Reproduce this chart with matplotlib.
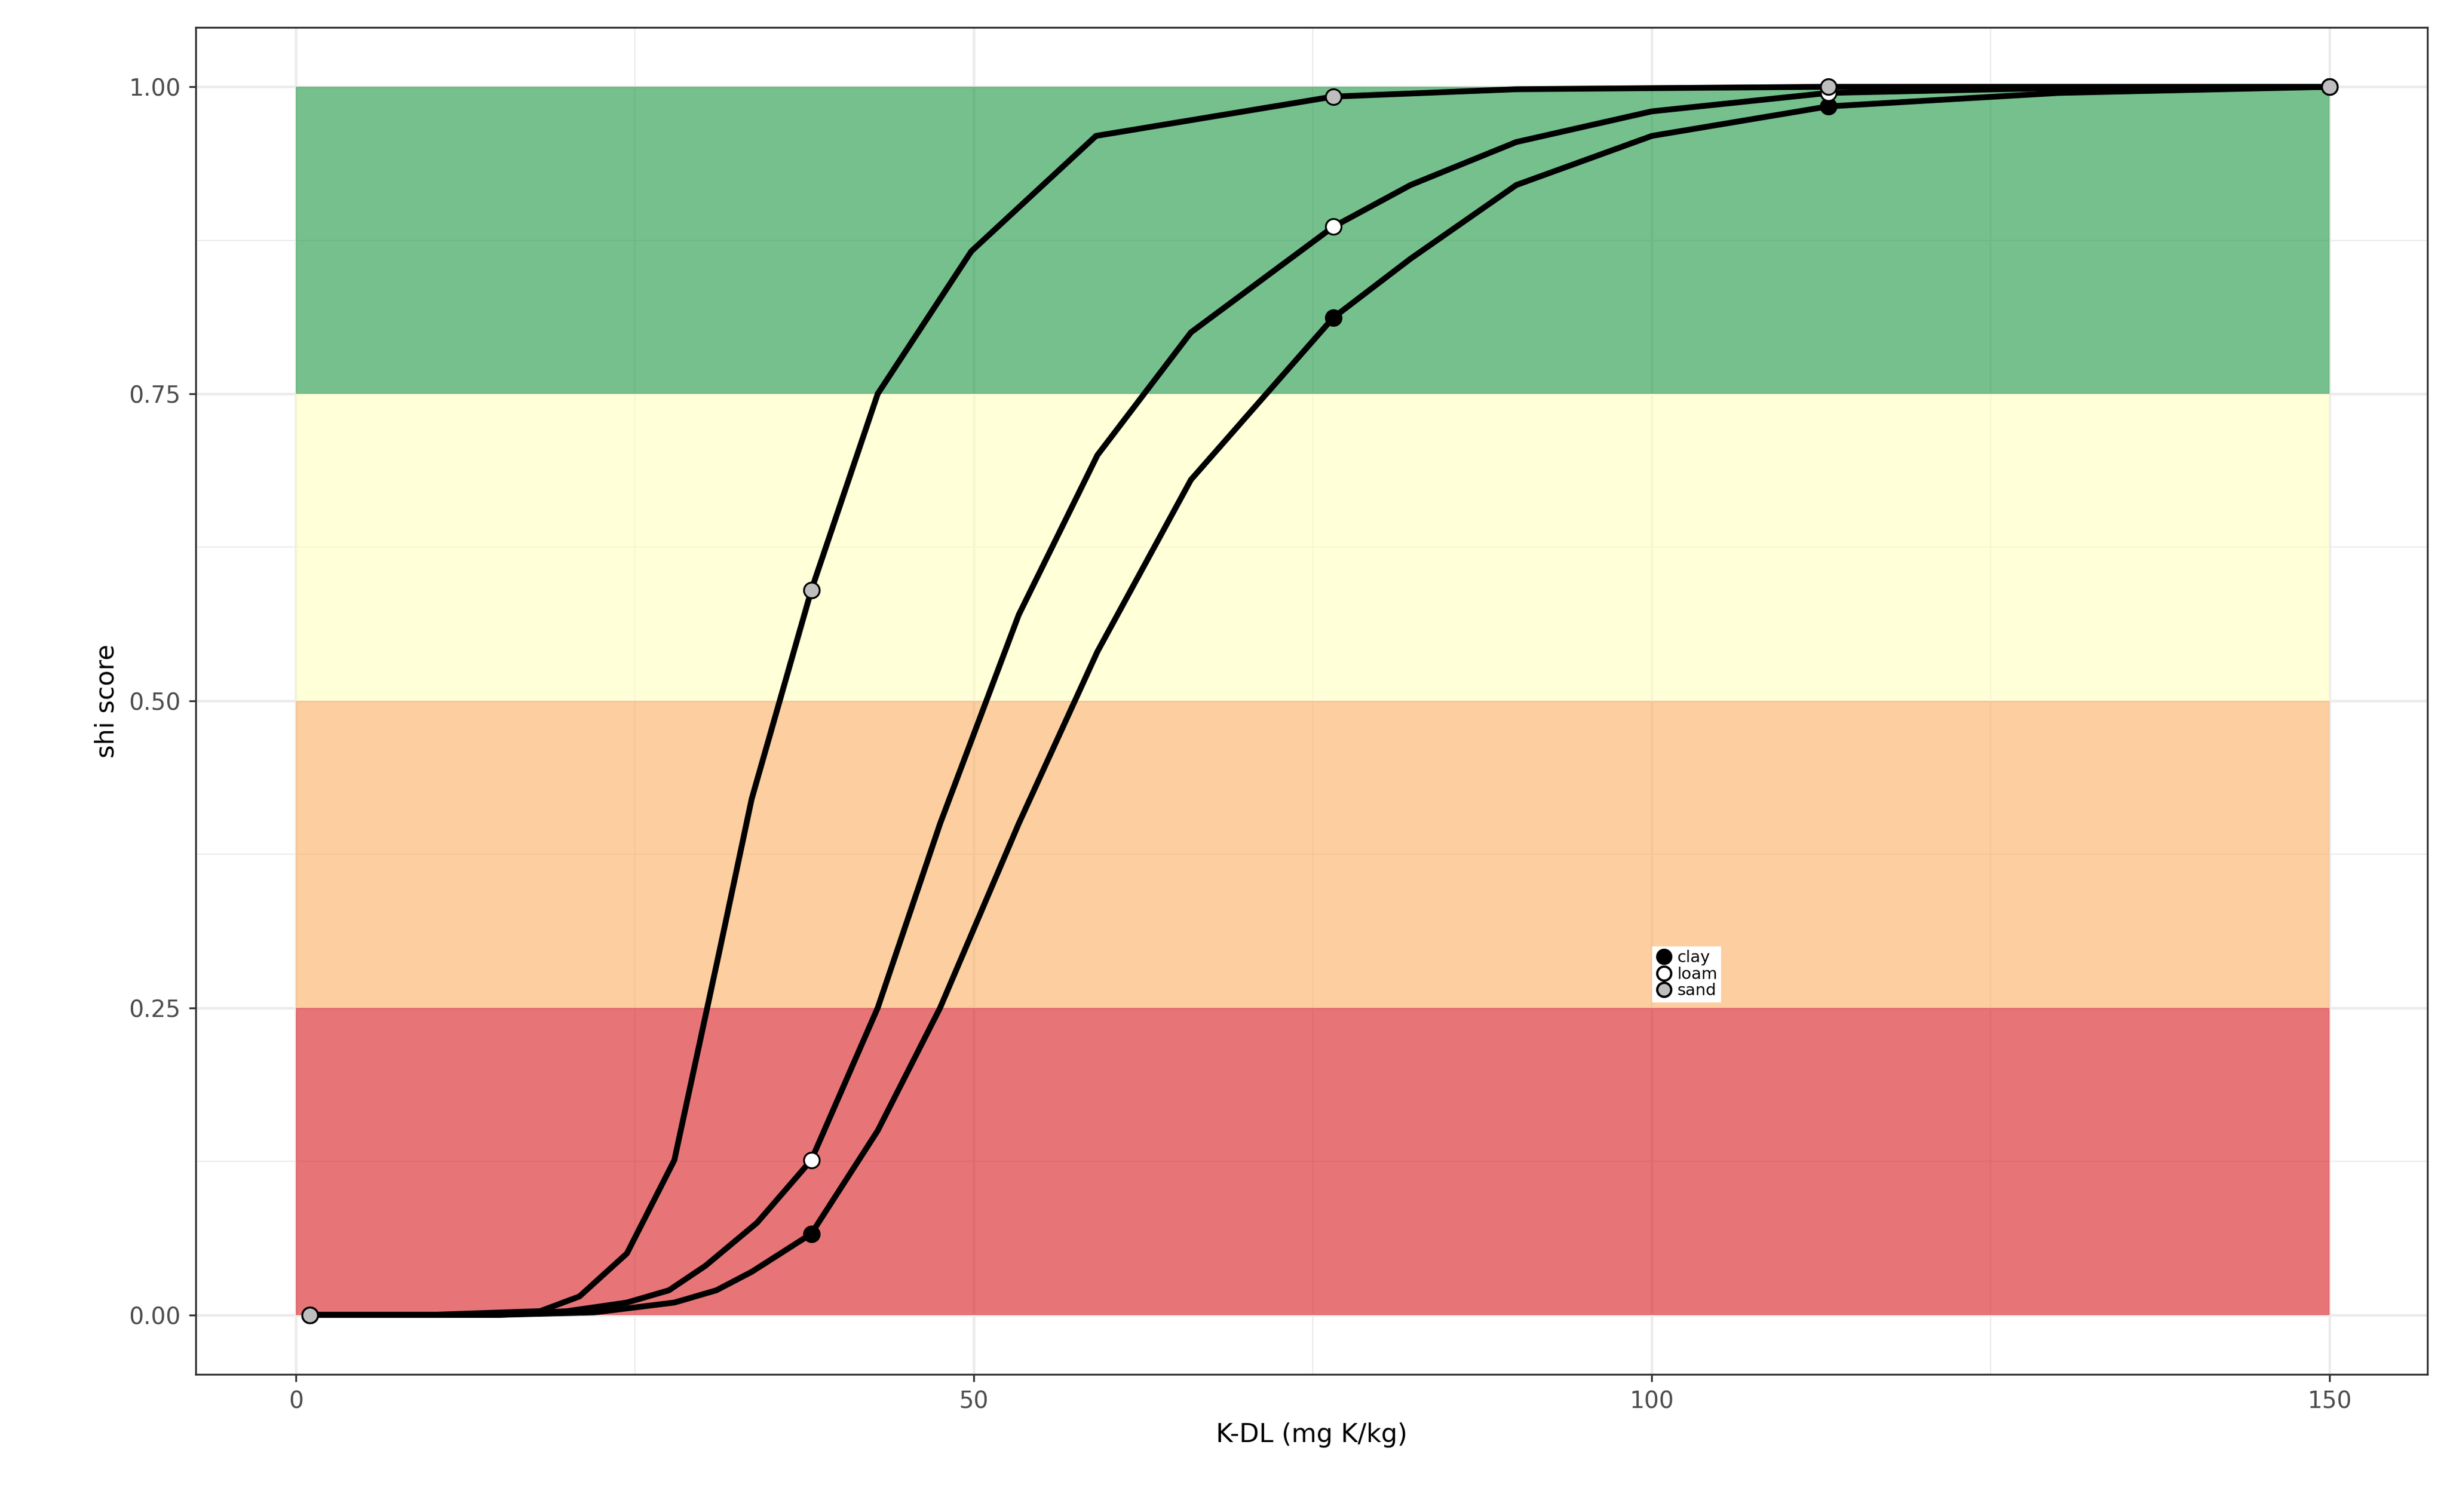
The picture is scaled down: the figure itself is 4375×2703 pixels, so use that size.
import matplotlib
matplotlib.use("Agg")
import matplotlib.pyplot as plt
from matplotlib.lines import Line2D

# curve samples
sand_x = [1, 10, 18, 20.9, 24.4, 27.9, 31.3, 33.6, 38, 42.9, 49.8, 59, 76.5, 90, 113, 150]
sand_y = [0, 0, 0.003, 0.015, 0.05, 0.126, 0.30, 0.42, 0.59, 0.75, 0.866, 0.96, 0.992, 0.998, 1.0, 1.0]
loam_x = [1, 15, 20, 24.4, 27.5, 30.2, 34, 38, 42.9, 47.5, 53.3, 59.1, 66, 76.5, 82.2, 90, 100, 113, 130, 150]
loam_y = [0, 0, 0.003, 0.01, 0.02, 0.04, 0.075, 0.126, 0.25, 0.40, 0.57, 0.70, 0.80, 0.886, 0.92, 0.955, 0.98, 0.995, 0.999, 1.0]
clay_x = [1, 15, 22, 27.9, 31, 33.6, 38, 42.9, 47.5, 53.3, 59.1, 66, 76.5, 82.2, 90, 100, 113, 130, 150]
clay_y = [0, 0, 0.002, 0.01, 0.02, 0.035, 0.066, 0.15, 0.25, 0.40, 0.54, 0.68, 0.812, 0.86, 0.92, 0.96, 0.984, 0.995, 1.0]

pt_x = [1, 38, 76.5, 113, 150]
clay_pts = [0, 0.066, 0.812, 0.984, 1.0]
loam_pts = [0, 0.126, 0.886, 0.995, 1.0]
sand_pts = [0, 0.59, 0.992, 1.0, 1.0]

bands = [(0, 0.25, "#d7191c"), (0.25, 0.5, "#fdae61"), (0.5, 0.75, "#ffffbf"), (0.75, 1.0, "#1a9641")]

fig = plt.figure(figsize=(4375/300, 2703/300), dpi=300)
ax = fig.add_axes([0.080, 0.091, 0.912, 0.891])
ax.set_xlim(-7.4, 157.2)
ax.set_ylim(-0.0485, 1.0485)
ax.set_xticks([0, 50, 100, 150])
ax.set_xticks([25, 75, 125], minor=True)
ax.set_yticks([0, 0.25, 0.5, 0.75, 1.0])
ax.set_yticklabels(["0.00", "0.25", "0.50", "0.75", "1.00"])
ax.set_yticks([0.125, 0.375, 0.625, 0.875], minor=True)
ax.grid(True, which="major", color="#ebebeb", lw=1.1, zorder=0)
ax.grid(True, which="minor", color="#ebebeb", lw=0.55, zorder=0)
ax.set_axisbelow(True)
ax.tick_params(which="minor", length=0)
ax.tick_params(which="major", length=3, color="#333333", labelsize=10, labelcolor="#4d4d4d")
for s in ax.spines.values():
    s.set_color("#333333"); s.set_linewidth(0.8)

for lo, hi, c in bands:
    ax.fill_between([0, 150], lo, hi, color=c, alpha=0.6, lw=0, zorder=1)

for xs, ys in [(sand_x, sand_y), (loam_x, loam_y), (clay_x, clay_y)]:
    ax.plot(xs, ys, color="black", lw=2.5, zorder=3, solid_capstyle="round")

for ys, fc in [(clay_pts, "black"), (loam_pts, "white"), (sand_pts, "#bebebe")]:
    ax.scatter(pt_x, ys, s=45, facecolor=fc, edgecolor="black", lw=0.8, zorder=4)

ax.set_xlabel("K-DL (mg K/kg)", fontsize=11)
ax.set_ylabel("shi score", fontsize=11)

handles = [Line2D([], [], marker="o", ls="", markersize=6, markerfacecolor=fc, markeredgecolor="black", label=l)
           for fc, l in [("black", "clay"), ("white", "loam"), ("#bebebe", "sand")]]
leg = ax.legend(handles=handles, loc="center", bbox_to_anchor=(0.668, 0.297), fontsize=7,
                frameon=True, fancybox=False, framealpha=1, edgecolor="white",
                handletextpad=0.3, labelspacing=0.05, borderpad=0.15, handlelength=1.0)
fig.savefig("out.png", dpi=300)
